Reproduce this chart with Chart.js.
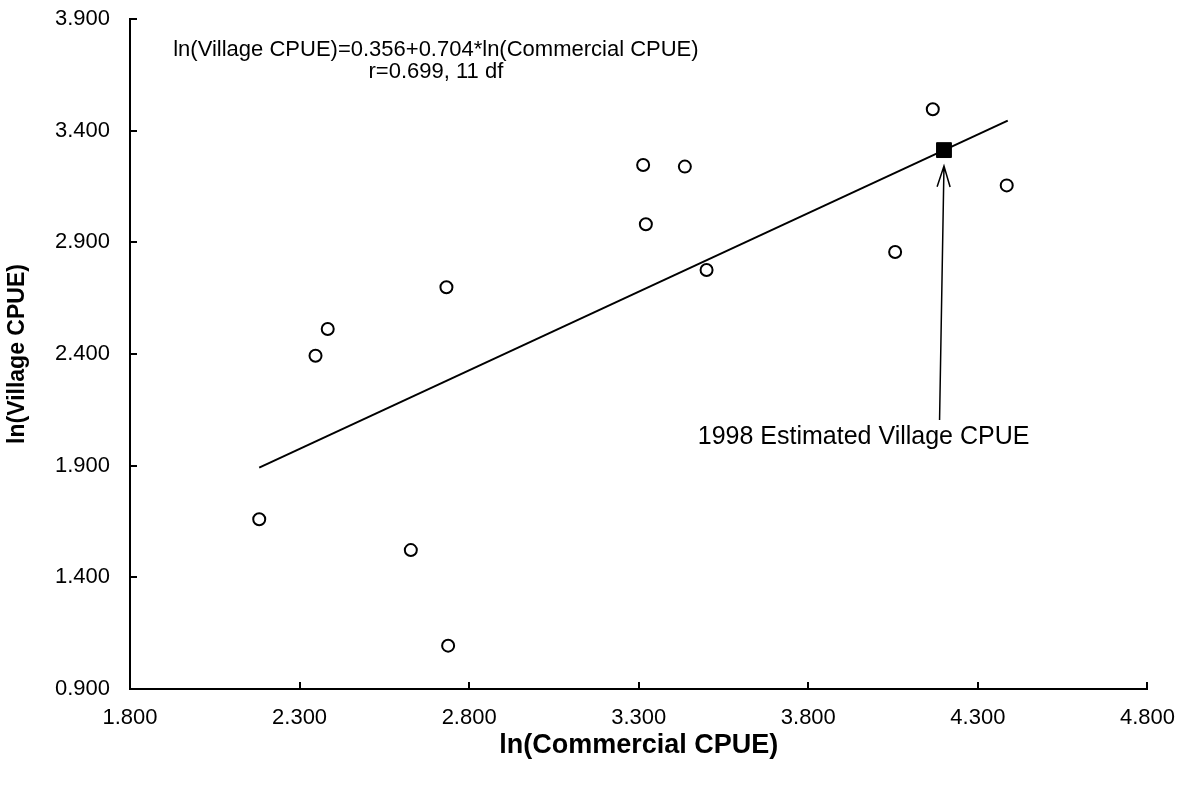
<!DOCTYPE html>
<html>
<head>
<meta charset="utf-8">
<title>ln(Village CPUE) vs ln(Commercial CPUE)</title>
<script src="https://cdn.jsdelivr.net/npm/chart.js@4"></script>
<style>
    body { margin: 0; background: #ffffff; }
    #wrap { width: 1191px; height: 788px; position: relative; }
</style>
</head>
<body>
<div id="wrap"><canvas id="chart"></canvas></div>
<script>
// observed years, log scale
const commercialCpue = [2.181, 2.347, 2.383, 2.628, 2.733, 2.738, 3.313, 3.321, 3.436, 3.500, 4.056, 4.167, 4.385];
const villageCpue    = [1.660, 2.392, 2.512, 1.522, 2.699, 1.094, 3.246, 2.981, 3.239, 2.776, 2.857, 3.496, 3.155];

// 1998 estimate from the regression
const estimateX = [4.200];
const estimateY = [3.313];

// fitted line end points
const fitX = [2.181, 4.388];
const fitY = [1.891, 3.445];

const xTicks = [1.8, 2.3, 2.8, 3.3, 3.8, 4.3, 4.8];
const yTicks = [0.9, 1.4, 1.9, 2.4, 2.9, 3.4, 3.9];

const equationText = 'ln(Village CPUE)=0.356+0.704*ln(Commercial CPUE)';
const statsText = 'r=0.699, 11 df';
const arrowLabel = '1998 Estimated Village CPUE';

const FONT = "'Liberation Sans', Arial, sans-serif";

function toPoints(xs, ys) {
    return xs.map((x, i) => ({ x: x, y: ys[i] }));
}

// inward tick marks, equation, and the arrow to the 1998 point
const extras = {
    id: 'extras',
    afterDraw(chart) {
        const ctx = chart.ctx;
        const xs = chart.scales.x;
        const ys = chart.scales.y;
        const area = chart.chartArea;

        ctx.save();
        ctx.strokeStyle = '#000';
        ctx.lineWidth = 2;
        ctx.beginPath();
        xs.ticks.forEach(t => {
            const px = Math.round(xs.getPixelForValue(t.value));
            ctx.moveTo(px, area.bottom);
            ctx.lineTo(px, area.bottom - 7);
        });
        ys.ticks.forEach(t => {
            const py = Math.round(ys.getPixelForValue(t.value));
            ctx.moveTo(area.left, py);
            ctx.lineTo(area.left + 7, py);
        });
        ctx.stroke();

        ctx.fillStyle = '#000';
        ctx.textAlign = 'center';
        ctx.textBaseline = 'middle';
        ctx.font = '22px ' + FONT;
        ctx.fillText(equationText, xs.getPixelForValue(2.702), ys.getPixelForValue(3.762));
        ctx.fillText(statsText, xs.getPixelForValue(2.702), ys.getPixelForValue(3.664));

        ctx.font = '25px ' + FONT;
        ctx.fillText(arrowLabel, xs.getPixelForValue(3.963), ys.getPixelForValue(2.029));

        // arrow
        const tailX = xs.getPixelForValue(4.187), tailY = ys.getPixelForValue(2.104);
        const tipX = xs.getPixelForValue(4.200), tipY = ys.getPixelForValue(3.242);
        ctx.lineWidth = 1.5;
        ctx.beginPath();
        ctx.moveTo(tailX, tailY);
        ctx.lineTo(tipX, tipY);
        const ang = Math.atan2(tipY - tailY, tipX - tailX);
        const head = 22, spread = 0.3;
        ctx.moveTo(tipX - head * Math.cos(ang - spread), tipY - head * Math.sin(ang - spread));
        ctx.lineTo(tipX, tipY);
        ctx.lineTo(tipX - head * Math.cos(ang + spread), tipY - head * Math.sin(ang + spread));
        ctx.stroke();
        ctx.restore();
    }
};

const whiteBg = {
    id: 'whiteBg',
    beforeDraw(chart) {
        const ctx = chart.ctx;
        ctx.save();
        ctx.fillStyle = '#ffffff';
        ctx.fillRect(0, 0, chart.width, chart.height);
        ctx.restore();
    }
};

new Chart(document.getElementById('chart'), {
    type: 'scatter',
    data: {
        datasets: [
            {
                label: 'Fit',
                data: toPoints(fitX, fitY),
                showLine: true,
                borderColor: '#000',
                borderWidth: 2,
                pointRadius: 0,
                order: 3
            },
            {
                label: 'Observed',
                data: toPoints(commercialCpue, villageCpue),
                pointStyle: 'circle',
                pointRadius: 6,
                borderWidth: 2,
                borderColor: '#000',
                backgroundColor: '#fff',
                order: 1
            },
            {
                label: '1998 estimate',
                data: toPoints(estimateX, estimateY),
                pointStyle: 'rect',
                pointRadius: 10.5,
                borderWidth: 1,
                borderColor: '#000',
                backgroundColor: '#000',
                order: 2
            }
        ]
    },
    options: {
        responsive: true,
        maintainAspectRatio: false,
        animation: false,
        layout: {
            autoPadding: false,
            padding: { top: 19, right: 43, bottom: 0, left: 0 }
        },
        plugins: {
            legend: { display: false },
            tooltip: { enabled: false }
        },
        scales: {
            x: {
                type: 'linear',
                min: 1.8,
                max: 4.8,
                afterBuildTicks: s => { s.ticks = xTicks.map(v => ({ value: v })); },
                afterFit: s => { s.height = 99; },
                grid: { display: false, drawTicks: false },
                border: { display: true, color: '#000', width: 2 },
                ticks: {
                    padding: 16,
                    color: '#000',
                    font: { family: FONT, size: 22 },
                    maxRotation: 0,
                    callback: v => v.toFixed(3)
                },
                title: {
                    display: true,
                    text: 'ln(Commercial CPUE)',
                    color: '#000',
                    font: { family: FONT, size: 27, weight: 'bold' },
                    padding: { top: 0, bottom: 26 }
                }
            },
            y: {
                type: 'linear',
                min: 0.9,
                max: 3.9,
                afterBuildTicks: s => { s.ticks = yTicks.map(v => ({ value: v })); },
                // label padding would otherwise push the plot area down
                afterFit: s => { s.width = 130; s.paddingTop = 0; s.paddingBottom = 0; },
                grid: { display: false, drawTicks: false },
                border: { display: true, color: '#000', width: 2 },
                ticks: {
                    padding: 20,
                    color: '#000',
                    font: { family: FONT, size: 22 },
                    callback: v => v.toFixed(3)
                },
                title: {
                    display: true,
                    text: 'ln(Village CPUE)',
                    color: '#000',
                    font: { family: FONT, size: 23, weight: 'bold' },
                    padding: { top: 4, bottom: 0 }
                }
            }
        }
    },
    plugins: [whiteBg, extras]
});
</script>
</body>
</html>
